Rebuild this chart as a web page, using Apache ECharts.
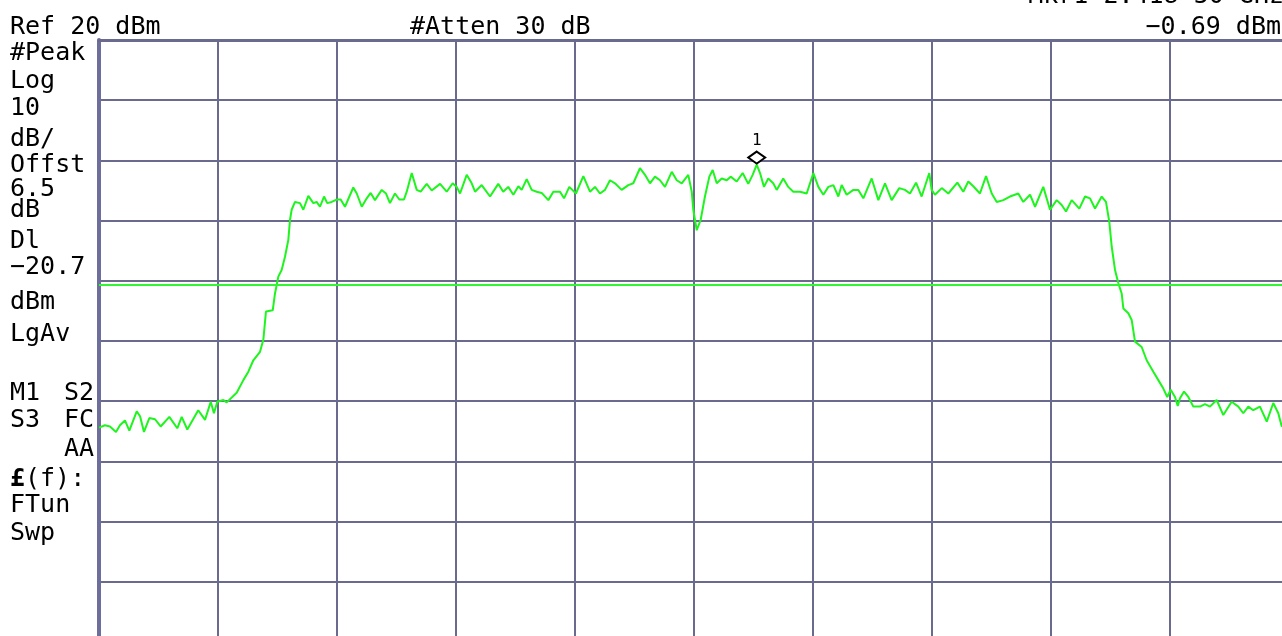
<!DOCTYPE html>
<html>
<head>
<meta charset="utf-8">
<script src="https://cdn.jsdelivr.net/npm/echarts/dist/echarts.min.js"></script>
<style>
html,body{margin:0;padding:0;background:#fff;overflow:hidden;width:1282px;height:636px;}
#chart{width:1300px;height:660px;}
</style>
</head>
<body>
<div id="chart"></div>
<script>
// Frequency position in screen divisions (0..10), trace level in dBm
const freqDiv = [0.000,0.050,0.092,0.143,0.176,0.218,0.255,0.317,0.345,0.378,
0.423,0.471,0.518,0.591,0.658,0.695,0.742,0.834,0.891,0.939,
0.966,0.994,1.045,1.073,1.157,1.213,1.255,1.297,1.353,1.381,
1.403,1.460,1.479,1.507,1.535,1.563,1.591,1.605,1.619,1.647,
1.689,1.717,1.759,1.801,1.829,1.857,1.891,1.918,1.955,1.997,
2.031,2.067,2.137,2.166,2.208,2.250,2.283,2.319,2.376,2.412,
2.445,2.487,2.524,2.563,2.586,2.628,2.670,2.703,2.754,2.796,
2.866,2.922,2.972,3.006,3.034,3.090,3.132,3.160,3.216,3.286,
3.355,3.397,3.439,3.482,3.524,3.552,3.594,3.636,3.678,3.720,
3.776,3.818,3.874,3.908,3.952,4.008,4.070,4.126,4.168,4.210,
4.252,4.294,4.336,4.392,4.448,4.490,4.546,4.588,4.630,4.672,
4.714,4.756,4.813,4.855,4.897,4.952,4.981,4.994,5.023,5.056,
5.092,5.129,5.157,5.191,5.233,5.275,5.308,5.359,5.409,5.456,
5.493,5.527,5.555,5.588,5.624,5.666,5.695,5.750,5.792,5.834,
5.891,5.947,6.003,6.045,6.087,6.129,6.171,6.213,6.241,6.283,
6.339,6.381,6.423,6.493,6.549,6.605,6.661,6.725,6.773,6.815,
6.866,6.913,6.977,6.997,7.025,7.082,7.137,7.213,7.263,7.305,
7.347,7.403,7.454,7.502,7.544,7.599,7.655,7.725,7.767,7.824,
7.866,7.935,7.992,8.048,8.090,8.126,8.174,8.238,8.286,8.328,
8.370,8.426,8.462,8.490,8.510,8.538,8.566,8.594,8.608,8.650,
8.678,8.706,8.762,8.804,8.860,8.902,8.944,8.977,9.006,9.042,
9.065,9.084,9.118,9.154,9.196,9.252,9.294,9.336,9.392,9.448,
9.518,9.574,9.616,9.658,9.700,9.756,9.813,9.868,9.910,9.939,10.000];

const levelDbm = [-44.4,-44.0,-44.2,-45.1,-44.0,-43.2,-44.9,-41.7,-42.5,-45.1,
-42.8,-43.0,-44.2,-42.6,-44.5,-42.6,-44.7,-41.5,-43.1,-40.1,
-42.0,-40.1,-39.8,-40.2,-38.6,-36.5,-35.1,-33.2,-31.8,-29.8,
-25.1,-24.9,-22.1,-19.3,-18.2,-16.0,-13.2,-9.9,-8.2,-6.9,
-7.1,-8.2,-5.9,-7.1,-6.9,-7.7,-6.0,-7.1,-6.9,-6.5,
-6.5,-7.7,-4.5,-5.5,-7.7,-6.3,-5.4,-6.6,-4.9,-5.5,
-7.1,-5.5,-6.5,-6.5,-5.2,-2.1,-4.9,-5.2,-3.9,-5.0,
-3.9,-5.2,-3.8,-4.4,-5.5,-2.4,-3.8,-5.2,-4.1,-6.0,
-3.9,-5.2,-4.4,-5.7,-4.3,-4.9,-3.1,-4.9,-5.2,-5.4,
-6.6,-5.2,-5.2,-6.3,-4.4,-5.5,-2.6,-5.2,-4.4,-5.5,
-4.9,-3.3,-3.8,-4.9,-4.1,-3.8,-1.3,-2.4,-3.8,-2.7,
-3.3,-4.4,-1.9,-3.3,-3.8,-2.4,-5.2,-8.2,-11.6,-9.9,
-6.0,-2.7,-1.6,-3.8,-3.0,-3.3,-2.7,-3.5,-2.1,-3.9,
-2.4,-0.69,-2.1,-4.4,-3.0,-3.8,-4.9,-3.0,-4.4,-5.2,
-5.2,-5.5,-2.1,-4.4,-5.7,-4.4,-4.1,-6.0,-4.1,-5.7,
-4.9,-4.9,-6.3,-3.0,-6.6,-3.8,-6.6,-4.6,-4.9,-5.5,
-3.7,-6.0,-2.1,-4.9,-5.7,-4.6,-5.5,-3.7,-5.2,-3.5,
-4.3,-5.5,-2.6,-5.5,-6.9,-6.6,-6.0,-5.5,-6.9,-5.7,
-7.7,-4.4,-8.2,-6.6,-7.4,-8.5,-6.6,-8.0,-6.0,-6.3,
-8.0,-6.0,-6.9,-10.2,-14.3,-18.2,-20.4,-22.1,-24.6,-25.4,
-26.5,-30.1,-31.0,-33.2,-35.1,-36.5,-37.9,-39.3,-38.1,-39.3,
-40.8,-39.5,-38.4,-39.3,-40.9,-40.9,-40.5,-40.9,-39.8,-42.3,
-40.1,-40.9,-42.0,-40.9,-41.5,-40.9,-43.4,-40.3,-42.0,-44.2,-43.1];

const refLevel = 20;       // dBm, top of screen
const dbPerDiv = 10;
const numDivs = 10;
const displayLine = -20.7; // dBm
const markerFreqDiv = 5.527;
const markerLevel = -0.69; // dBm

const headerTexts = ["Ref 20 dBm", "#Atten 30 dB", "Mkr1 2.418 50 GHz", "\u22120.69 dBm"];
const sideTexts = ["#Peak","Log","10","dB/","Offst","6.5","dB","Dl","\u221220.7","dBm","LgAv"];

const chart = echarts.init(document.getElementById('chart'), null, {renderer:'canvas'});

const gridColor = '#6a6a8e';
const traceColor = '#1ef51e';
const FONT = '25px "DejaVu Sans Mono", monospace';

function txt(text, x, y, align) {
  return {
    type: 'text', x: x, y: y, silent: true,
    style: { text: text, font: FONT, fill: '#000', align: align || 'left', verticalAlign: 'middle' }
  };
}

const sideY = [53, 81, 108, 139, 165, 189, 210, 241, 267, 302, 334];
const graphics = [
  txt(headerTexts[0], 10, 27),
  txt(headerTexts[1], 410, 27),
  txt(headerTexts[2], 1284, -4, 'right'),
  txt(headerTexts[3], 1281, 27, 'right')
];
sideTexts.forEach((t, i) => graphics.push(txt(t, 10, sideY[i])));
graphics.push(txt('M1', 10, 393));
graphics.push(txt('S2', 94, 393, 'right'));
graphics.push(txt('S3', 10, 420));
graphics.push(txt('FC', 94, 420, 'right'));
graphics.push(txt('AA', 94, 449, 'right'));
graphics.push({type:'text', x:10, y:479, silent:true,
  style:{text:'\u00a3', font:'bold 25px "DejaVu Sans Mono", monospace', fill:'#000', align:'left', verticalAlign:'middle'}});
graphics.push(txt('(f):', 25, 479));
graphics.push(txt('FTun', 10, 505));
graphics.push(txt('Swp', 10, 533));

const option = {
  backgroundColor: '#ffffff',
  animation: false,
  grid: { left: 99, top: 40, width: 1190, height: 602, containLabel: false },
  xAxis: {
    type: 'value', min: 0, max: numDivs, interval: 1, position: 'top',
    axisLine: { show: true, onZero: false, lineStyle: { color: gridColor, width: 3 } },
    axisTick: { show: false }, axisLabel: { show: false },
    splitLine: { show: true, lineStyle: { color: gridColor, width: 2 } }
  },
  yAxis: {
    type: 'value', min: refLevel - dbPerDiv * numDivs, max: refLevel, interval: dbPerDiv,
    axisLine: { show: true, onZero: false, lineStyle: { color: '#6e6e9c', width: 4 } },
    axisTick: { show: false }, axisLabel: { show: false },
    splitLine: { show: true, lineStyle: { color: gridColor, width: 2 } }
  },
  series: [{
    type: 'line',
    data: freqDiv.map((f, i) => [f, levelDbm[i]]),
    showSymbol: false, symbol: 'none', smooth: false,
    lineStyle: { color: traceColor, width: 2 },
    silent: true,
    markLine: {
      silent: true, symbol: 'none', animation: false,
      label: { show: false },
      lineStyle: { color: '#33f533', width: 2, type: 'solid' },
      data: [{ yAxis: displayLine }]
    },
    markPoint: {
      silent: true, animation: false,
      data: [{ coord: [markerFreqDiv, markerLevel] }],
      symbol: 'diamond', symbolSize: [17, 12], symbolOffset: [0, -7],
      itemStyle: { color: '#ffffff', borderColor: '#000', borderWidth: 2 },
      label: { show: true, formatter: '1', position: 'top', distance: 2, color: '#000',
               fontFamily: '"DejaVu Sans Mono", monospace', fontSize: 16 }
    }
  }],
  graphic: graphics
};
chart.setOption(option);
</script>
</body>
</html>
